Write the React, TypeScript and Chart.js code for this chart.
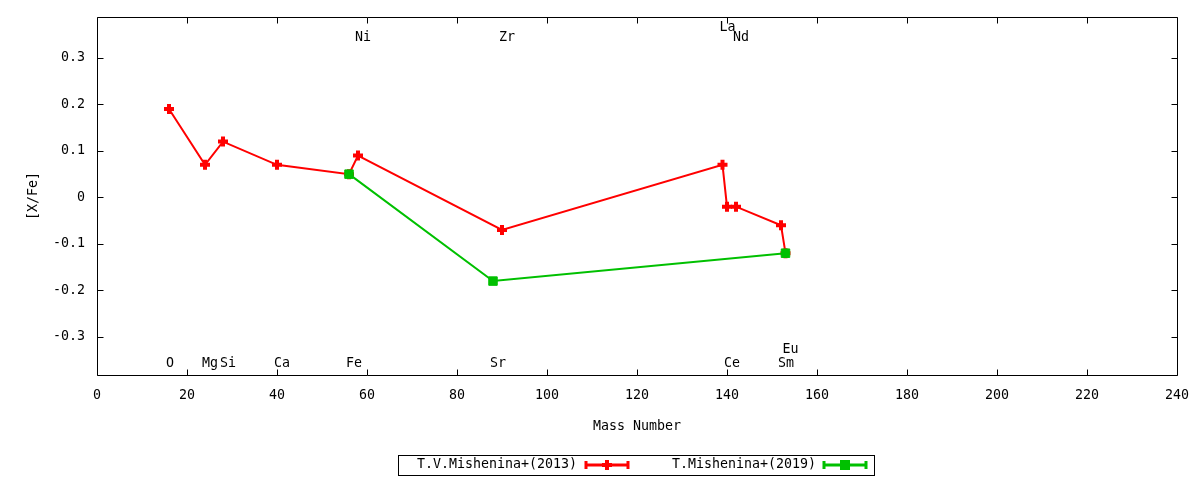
import React, { useEffect, useRef } from "react";
import { Chart, registerables } from "chart.js";

Chart.register(...registerables);

const masses2013 = [16, 24, 28, 40, 56, 58, 90, 139, 140, 142, 152, 153];
const values2013 = [0.19, 0.07, 0.12, 0.07, 0.05, 0.09, -0.07, 0.07, -0.02, -0.02, -0.06, -0.12];
const masses2019 = [56, 88, 153];
const values2019 = [0.05, -0.18, -0.12];

const elementNames = ["O", "Mg", "Si", "Ca", "Fe", "Ni", "Sr", "Zr", "La", "Ce", "Nd", "Sm", "Eu"];
const elementMasses = [16, 24, 28, 40, 56, 58, 88, 90, 139, 140, 142, 152, 153];
const elementRows = ["low", "low", "low", "low", "low", "high", "low", "high", "high2", "low", "high", "low", "low2"];

const xTicks = [0, 20, 40, 60, 80, 100, 120, 140, 160, 180, 200, 220, 240];
const yTicks = [-0.3, -0.2, -0.1, 0, 0.1, 0.2, 0.3];

const label2013 = "T.V.Mishenina+(2013)";
const label2019 = "T.Mishenina+(2019)";

const RED = "#ff0000";
const GREEN = "#00c000";
const FONT = "DejaVu Sans Mono";
const FS = 13.3;

const framePlugin = {
  id: "gnuplotFrame",
  afterDraw(chart: any) {
    const { ctx, chartArea } = chart;
    const { left, right, top, bottom } = chartArea;
    const xs = chart.scales.x;
    const ys = chart.scales.y;
    ctx.save();
    ctx.strokeStyle = "#000";
    ctx.lineWidth = 1;
    ctx.beginPath();
    const L = Math.round(left) + 0.5;
    const R = Math.round(right) + 0.5;
    const T = Math.round(top) + 0.5;
    const B = Math.round(bottom) + 0.5;
    ctx.rect(L, T, R - L, B - T);
    const tl = 6;
    xs.ticks.forEach((t: any) => {
      const px = Math.round(xs.getPixelForValue(t.value)) + 0.5;
      ctx.moveTo(px, B);
      ctx.lineTo(px, B - tl);
      ctx.moveTo(px, T);
      ctx.lineTo(px, T + tl);
    });
    ys.ticks.forEach((t: any) => {
      const py = Math.round(ys.getPixelForValue(t.value)) + 0.5;
      ctx.moveTo(L, py);
      ctx.lineTo(L + tl, py);
      ctx.moveTo(R, py);
      ctx.lineTo(R - tl, py);
    });
    ctx.stroke();

    // element labels (left-justified at the mass number, gnuplot style)
    ctx.fillStyle = "#000";
    ctx.font = `${FS}px "${FONT}"`;
    ctx.textAlign = "left";
    ctx.textBaseline = "middle";
    elementNames.forEach((name, i) => {
      const px = xs.getPixelForValue(elementMasses[i]) - 3;
      const row = elementRows[i];
      let py = 0;
      if (row === "high") py = top + 21;
      else if (row === "high2") py = top + 11;
      else if (row === "low") py = bottom - 11;
      else py = bottom - 25;
      ctx.fillText(name, px, py);
    });

    // legend
    const bx = 398.5, by = 455.5, bw = 476, bh = 20;
    ctx.strokeRect(bx, by, bw, bh);
    const ly = 465;
    ctx.textAlign = "right";
    ctx.fillText(label2013, 577, ly);
    ctx.fillText(label2019, 816, ly);
    const drawSample = (x0: number, x1: number, color: string, square: boolean) => {
      ctx.strokeStyle = color;
      ctx.fillStyle = color;
      ctx.lineWidth = 3;
      ctx.beginPath();
      ctx.moveTo(x0, ly);
      ctx.lineTo(x1, ly);
      ctx.moveTo(x0, ly - 4);
      ctx.lineTo(x0, ly + 4);
      ctx.moveTo(x1, ly - 4);
      ctx.lineTo(x1, ly + 4);
      ctx.stroke();
      const cx = (x0 + x1) / 2;
      if (square) {
        ctx.fillRect(cx - 5, ly - 5, 10, 10);
      } else {
        ctx.lineWidth = 4;
        ctx.beginPath();
        ctx.moveTo(cx - 5, ly);
        ctx.lineTo(cx + 5, ly);
        ctx.moveTo(cx, ly - 5);
        ctx.lineTo(cx, ly + 5);
        ctx.stroke();
      }
      ctx.fillStyle = "#000";
      ctx.strokeStyle = "#000";
    };
    drawSample(586, 628, RED, false);
    drawSample(824, 866, GREEN, true);
    ctx.restore();
  },
};

export default function App() {
  const ref = useRef<HTMLCanvasElement | null>(null);
  useEffect(() => {
    document.body.style.margin = "0";
    if (!ref.current) return;
    const chart = new Chart(ref.current, {
      type: "line",
      data: {
        datasets: [
          {
            label: label2013,
            data: masses2013.map((m, i) => ({ x: m, y: values2013[i] })),
            borderColor: RED,
            backgroundColor: RED,
            borderWidth: 2,
            pointStyle: "cross",
            pointRadius: 5,
            pointBorderWidth: 4,
            pointBorderColor: RED,
            tension: 0,
            order: 2,
          },
          {
            label: label2019,
            data: masses2019.map((m, i) => ({ x: m, y: values2019[i] })),
            borderColor: GREEN,
            backgroundColor: GREEN,
            borderWidth: 2,
            pointStyle: "rect",
            pointRadius: 6,
            pointBorderWidth: 1,
            pointBorderColor: GREEN,
            pointBackgroundColor: GREEN,
            tension: 0,
            order: 1,
          },
        ],
      },
      options: {
        animation: false,
        responsive: false,
        maintainAspectRatio: false,
        layout: { padding: { left: 0, right: 23, top: 17, bottom: 0 } },
        plugins: {
          legend: { display: false },
          tooltip: { enabled: false },
        },
        scales: {
          x: {
            type: "linear",
            min: 0,
            max: 240,
            grid: { display: false, drawTicks: false, tickLength: 0 },
            border: { display: false },
            afterBuildTicks: (s: any) => {
              s.ticks = xTicks.map((v) => ({ value: v }));
            },
            afterFit: (s: any) => {
              s.height = 105;
              s.paddingLeft = 0;
              s.paddingRight = 0;
              s.paddingTop = 0;
              s.paddingBottom = 0;
            },
            ticks: {
              color: "#000",
              font: { family: FONT, size: FS },
              padding: 13,
              maxRotation: 0,
              autoSkip: false,
              callback: (v: any) => String(v),
            },
            title: {
              display: true,
              text: "Mass Number",
              color: "#000",
              font: { family: FONT, size: FS },
              padding: { top: 0, bottom: 45 },
            },
          },
          y: {
            type: "linear",
            min: -0.382,
            max: 0.388,
            grid: { display: false, drawTicks: false, tickLength: 0 },
            border: { display: false },
            afterBuildTicks: (s: any) => {
              s.ticks = yTicks.map((v) => ({ value: v }));
            },
            afterFit: (s: any) => {
              s.width = 97;
              s.paddingLeft = 0;
              s.paddingRight = 0;
              s.paddingTop = 0;
              s.paddingBottom = 0;
            },
            ticks: {
              color: "#000",
              font: { family: FONT, size: FS },
              padding: 12,
              autoSkip: false,
              callback: (v: any) => String(Math.round(Number(v) * 10) / 10),
            },
            title: {
              display: true,
              text: "[X/Fe]",
              color: "#000",
              font: { family: FONT, size: FS },
              padding: { top: 26, bottom: 0 },
            },
          },
        },
      },
      plugins: [framePlugin],
    });
    return () => chart.destroy();
  }, []);
  return (
    <div style={{ position: "fixed", left: 0, top: 0, width: 1200, height: 480, background: "#fff" }}>
      <canvas ref={ref} width={1200} height={480} style={{ width: 1200, height: 480 }} />
    </div>
  );
}
